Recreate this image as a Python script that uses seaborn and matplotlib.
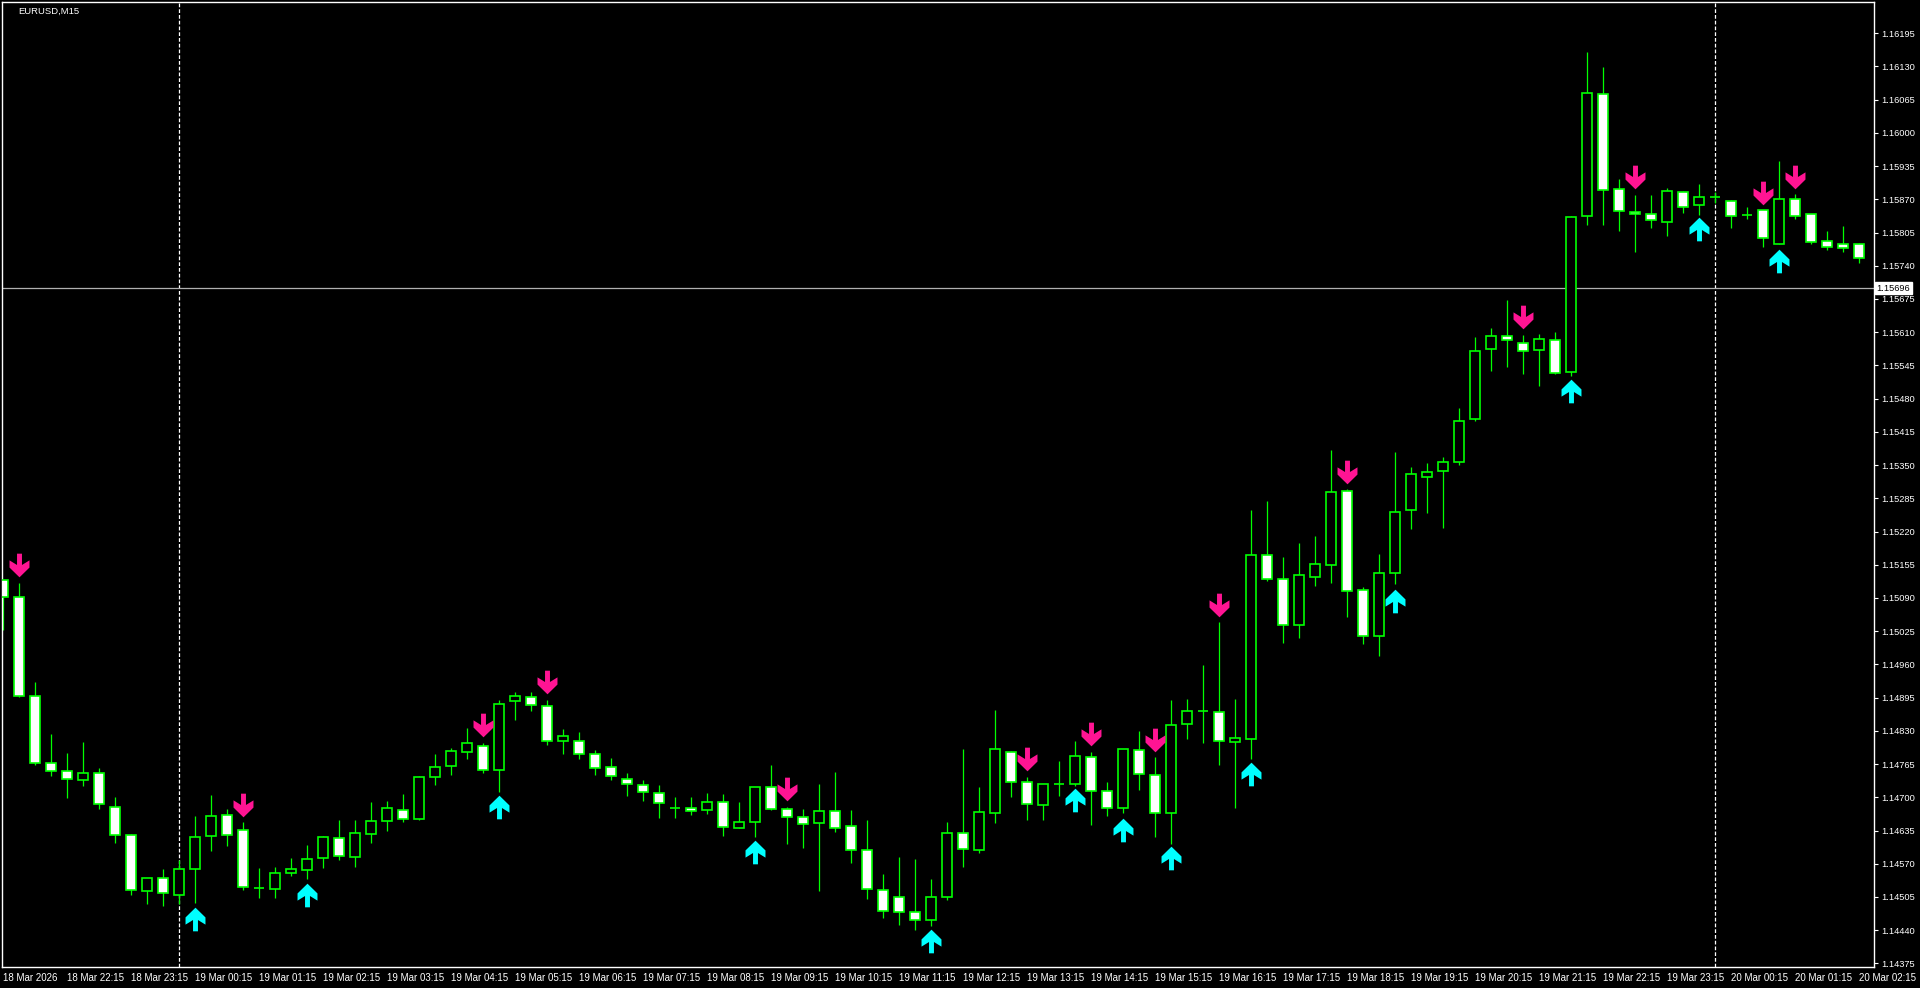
import matplotlib
matplotlib.use("Agg")
import matplotlib.pyplot as plt
from matplotlib.path import Path
import matplotlib.transforms as mtransforms
import seaborn as sns
import pandas as pd

# EURUSD M15 candles, oldest first (bar 0 = 18 Mar 21:15)
opens = [1.15125, 1.15091, 1.14899, 1.14768, 1.14751, 1.14733, 1.14747, 1.14682, 1.14626, 1.14516,
         1.14543, 1.14508, 1.14559, 1.14624, 1.14665, 1.14637, 1.14523, 1.14520, 1.14551, 1.14557,
         1.14581, 1.14620, 1.14584, 1.14629, 1.14653, 1.14676, 1.14657, 1.14740, 1.14762, 1.14789,
         1.14801, 1.14753, 1.14888, 1.14896, 1.14878, 1.14811, 1.14811, 1.14784, 1.14759, 1.14735,
         1.14725, 1.14708, 1.14680, 1.14680, 1.14676, 1.14690, 1.14639, 1.14651, 1.14721, 1.14678,
         1.14661, 1.14649, 1.14673, 1.14643, 1.14596, 1.14518, 1.14505, 1.14476, 1.14460, 1.14505,
         1.14630, 1.14596, 1.14669, 1.14788, 1.14729, 1.14684, 1.14726, 1.14727, 1.14778, 1.14712,
         1.14680, 1.14792, 1.14743, 1.14669, 1.14843, 1.14869, 1.14866, 1.14808, 1.14815, 1.15174,
         1.15127, 1.15037, 1.15132, 1.15154, 1.15299, 1.15105, 1.15015, 1.15138, 1.15262, 1.15326,
         1.15338, 1.15356, 1.15440, 1.15577, 1.15602, 1.15588, 1.15575, 1.15594, 1.15532, 1.15837,
         1.16076, 1.15890, 1.15845, 1.15841, 1.15826, 1.15884, 1.15858, 1.15874, 1.15866, 1.15839,
         1.15849, 1.15782, 1.15870, 1.15841, 1.15788, 1.15782, 1.15782]
highs = [1.15125, 1.15119, 1.14925, 1.14824, 1.14786, 1.14808, 1.14757, 1.14701, 1.14629, 1.14543,
         1.14560, 1.14577, 1.14663, 1.14704, 1.14677, 1.14652, 1.14561, 1.14564, 1.14581, 1.14607,
         1.14624, 1.14655, 1.14655, 1.14691, 1.14693, 1.14706, 1.14741, 1.14784, 1.14796, 1.14835,
         1.14806, 1.14890, 1.14906, 1.14906, 1.14890, 1.14834, 1.14827, 1.14792, 1.14776, 1.14747,
         1.14733, 1.14725, 1.14700, 1.14700, 1.14708, 1.14706, 1.14690, 1.14721, 1.14764, 1.14682,
         1.14678, 1.14727, 1.14749, 1.14676, 1.14655, 1.14550, 1.14583, 1.14579, 1.14540, 1.14652,
         1.14794, 1.14720, 1.14871, 1.14790, 1.14739, 1.14727, 1.14771, 1.14810, 1.14789, 1.14730,
         1.14794, 1.14830, 1.14779, 1.14890, 1.14892, 1.14959, 1.15043, 1.14892, 1.15262, 1.15280,
         1.15170, 1.15197, 1.15211, 1.15380, 1.15303, 1.15111, 1.15176, 1.15376, 1.15346, 1.15354,
         1.15366, 1.15461, 1.15600, 1.15618, 1.15673, 1.15604, 1.15606, 1.15610, 1.15837, 1.16158,
         1.16129, 1.15909, 1.15878, 1.15878, 1.15892, 1.15886, 1.15900, 1.15885, 1.15868, 1.15855,
         1.15849, 1.15945, 1.15880, 1.15841, 1.15808, 1.15817, 1.15784]
lows = [1.15027, 1.14896, 1.14763, 1.14742, 1.14699, 1.14723, 1.14678, 1.14611, 1.14509, 1.14492,
        1.14488, 1.14491, 1.14494, 1.14595, 1.14605, 1.14519, 1.14503, 1.14503, 1.14547, 1.14541,
        1.14562, 1.14578, 1.14564, 1.14611, 1.14635, 1.14652, 1.14655, 1.14725, 1.14744, 1.14774,
        1.14748, 1.14711, 1.14852, 1.14869, 1.14803, 1.14785, 1.14775, 1.14744, 1.14734, 1.14703,
        1.14693, 1.14660, 1.14660, 1.14666, 1.14668, 1.14625, 1.14639, 1.14622, 1.14675, 1.14608,
        1.14600, 1.14516, 1.14633, 1.14571, 1.14502, 1.14464, 1.14450, 1.14440, 1.14448, 1.14500,
        1.14564, 1.14592, 1.14650, 1.14701, 1.14656, 1.14656, 1.14702, 1.14723, 1.14646, 1.14664,
        1.14669, 1.14715, 1.14623, 1.14609, 1.14815, 1.14807, 1.14764, 1.14680, 1.14775, 1.15124,
        1.15002, 1.15012, 1.15114, 1.15120, 1.15053, 1.14999, 1.14977, 1.15117, 1.15224, 1.15256,
        1.15226, 1.15350, 1.15436, 1.15534, 1.15541, 1.15528, 1.15504, 1.15528, 1.15524, 1.15820,
        1.15820, 1.15807, 1.15766, 1.15813, 1.15799, 1.15844, 1.15840, 1.15862, 1.15813, 1.15831,
        1.15777, 1.15782, 1.15831, 1.15782, 1.15770, 1.15766, 1.15746]
closes = [1.15091, 1.14899, 1.14768, 1.14751, 1.14735, 1.14747, 1.14686, 1.14626, 1.14518, 1.14543,
          1.14512, 1.14559, 1.14622, 1.14663, 1.14626, 1.14524, 1.14523, 1.14551, 1.14559, 1.14579,
          1.14622, 1.14586, 1.14631, 1.14653, 1.14680, 1.14657, 1.14739, 1.14760, 1.14790, 1.14806,
          1.14753, 1.14882, 1.14898, 1.14880, 1.14810, 1.14820, 1.14784, 1.14757, 1.14741, 1.14727,
          1.14710, 1.14688, 1.14680, 1.14674, 1.14690, 1.14641, 1.14651, 1.14721, 1.14678, 1.14661,
          1.14647, 1.14673, 1.14639, 1.14596, 1.14520, 1.14477, 1.14476, 1.14460, 1.14505, 1.14630,
          1.14598, 1.14671, 1.14794, 1.14729, 1.14686, 1.14727, 1.14726, 1.14780, 1.14712, 1.14680,
          1.14794, 1.14745, 1.14669, 1.14841, 1.14868, 1.14869, 1.14811, 1.14817, 1.15174, 1.15127,
          1.15038, 1.15134, 1.15156, 1.15297, 1.15103, 1.15015, 1.15138, 1.15258, 1.15332, 1.15336,
          1.15356, 1.15436, 1.15573, 1.15602, 1.15594, 1.15573, 1.15596, 1.15530, 1.15835, 1.16078,
          1.15888, 1.15847, 1.15841, 1.15829, 1.15886, 1.15855, 1.15874, 1.15874, 1.15837, 1.15839,
          1.15794, 1.15870, 1.15837, 1.15786, 1.15776, 1.15774, 1.15755]

# indicator arrows (bar index, price of the arrow centre)
sell_bars = [1, 15, 30, 34, 49, 64, 68, 72, 76, 84, 95, 102, 110, 112]
sell_prices = [1.15155, 1.14685, 1.14842, 1.14926, 1.14717, 1.14774, 1.14823, 1.14813, 1.15077,
               1.15337, 1.15639, 1.15913, 1.15883, 1.15914]
buy_bars = [12, 19, 31, 47, 58, 67, 70, 73, 78, 87, 98, 106, 111]
buy_prices = [1.14462, 1.14509, 1.14682, 1.14593, 1.14419, 1.14695, 1.14637, 1.14581, 1.14746,
              1.15085, 1.15495, 1.15811, 1.15750]

time_labels = ["18 Mar 2026", "18 Mar 22:15", "18 Mar 23:15", "19 Mar 00:15", "19 Mar 01:15",
               "19 Mar 02:15", "19 Mar 03:15", "19 Mar 04:15", "19 Mar 05:15", "19 Mar 06:15",
               "19 Mar 07:15", "19 Mar 08:15", "19 Mar 09:15", "19 Mar 10:15", "19 Mar 11:15",
               "19 Mar 12:15", "19 Mar 13:15", "19 Mar 14:15", "19 Mar 15:15", "19 Mar 16:15",
               "19 Mar 17:15", "19 Mar 18:15", "19 Mar 19:15", "19 Mar 20:15", "19 Mar 21:15",
               "19 Mar 22:15", "19 Mar 23:15", "20 Mar 00:15", "20 Mar 01:15", "20 Mar 02:15"]
price_ticks = [1.14375, 1.14440, 1.14505, 1.14570, 1.14635, 1.14700, 1.14765, 1.14830, 1.14895,
               1.14960, 1.15025, 1.15090, 1.15155, 1.15220, 1.15285, 1.15350, 1.15415, 1.15480,
               1.15545, 1.15610, 1.15675, 1.15740, 1.15805, 1.15870, 1.15935, 1.16000, 1.16065,
               1.16130, 1.16195]
current_price = 1.15696
day_separators = [11, 107]
symbol = "EURUSD,M15"

sns.set_style("dark", {"axes.facecolor": "black", "figure.facecolor": "black",
                       "axes.edgecolor": "white", "text.color": "white",
                       "xtick.color": "white", "ytick.color": "white"})
plt.rcParams["font.family"] = ["Liberation Sans", "DejaVu Sans"]

df = pd.DataFrame({"open": opens, "high": highs, "low": lows, "close": closes})
df["bar"] = range(len(df))
df["bull"] = df["close"] > df["open"]
df["bottom"] = df[["open", "close"]].min(axis=1)
df["body"] = (df["close"] - df["open"]).abs()

W, H = 1920, 988
fig = plt.figure(figsize=(W / 100, H / 100), dpi=100)
ax = fig.add_axes([2 / W, (H - 967) / H, 1872 / W, 965 / H])
ax.set_facecolor("black")

green = "#00ff00"
ax.vlines(df["bar"], df["low"], df["high"], color=green, lw=0.9, zorder=2)
ax.bar(df["bar"], df["body"], bottom=df["bottom"], width=0.62,
       color=["black" if b else "white" for b in df["bull"]],
       edgecolor=green, linewidth=1.2, zorder=3)

# arrow markers
arrow = [(-2.4, 11.5), (2.4, 11.5), (2.4, 0.5), (9.7, 5.0), (9.7, -2.0), (0, -11.5),
         (-9.7, -2.0), (-9.7, 5.0), (-2.4, 0.5), (-2.4, 11.5)]
down_path = Path(arrow, closed=True)
up_path = Path([(x, -y) for x, y in arrow], closed=True)
sns.scatterplot(x=sell_bars, y=sell_prices, marker=down_path, s=290, color="#ff1493",
                linewidth=0, ax=ax, zorder=5)
sns.scatterplot(x=buy_bars, y=buy_prices, marker=up_path, s=290, color="#00ffff",
                linewidth=0, ax=ax, zorder=5)

for b in day_separators:
    ax.axvline(b, color="white", lw=0.9, ls=(0, (3, 1.6)), zorder=1)
ax.axhline(current_price, color="#b0b0b0", lw=0.9, zorder=1)

ax.set_xlim((2 - 3.3) / 16, (1874 - 3.3) / 16)
ax.set_ylim(1.14368, 1.16256)

ax.set_xticks(range(0, len(df), 4))
ax.set_xticklabels(time_labels)
for lbl in ax.get_xticklabels():
    lbl.set_horizontalalignment("left")
ax.yaxis.tick_right()
ax.set_yticks(price_ticks)
ax.set_yticklabels([f"{p:.5f}" for p in price_ticks])
ax.tick_params(axis="x", direction="out", length=3, width=0.8, pad=1.5,
               labelsize=7.0, colors="white")
ax.tick_params(axis="y", direction="out", length=3, width=0.8, pad=2,
               labelsize=6.7, colors="white")
ax.set_xlabel("")
ax.set_ylabel("")
ax.grid(False)
for sp in ax.spines.values():
    sp.set_color("white")
    sp.set_linewidth(1)

trans = mtransforms.blended_transform_factory(ax.transAxes, ax.transData)
ax.text(1.0013, current_price, f"{current_price:.5f}", transform=trans, fontsize=6.7,
        color="black", va="center", ha="left", zorder=10, clip_on=False,
        bbox=dict(facecolor="white", edgecolor="white", pad=1.2))
ax.text(16 / 1872, 0.9907, symbol, transform=ax.transAxes, fontsize=6.8,
        color="white", va="center", ha="left")

fig.savefig("out.png", dpi=100, facecolor="black")
